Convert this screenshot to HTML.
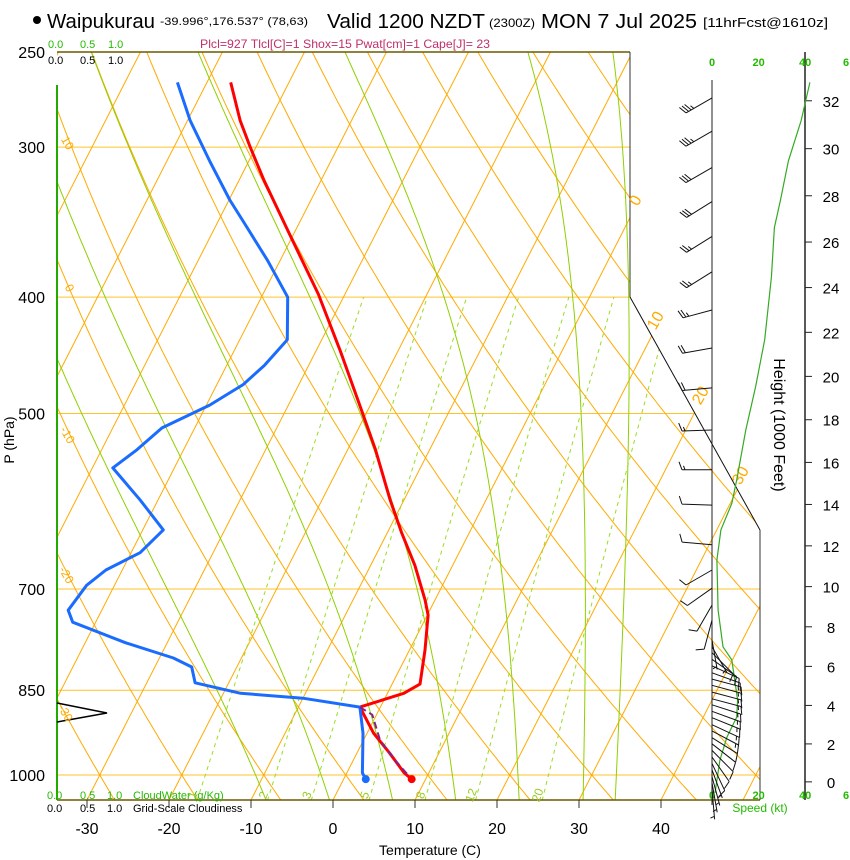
<!DOCTYPE html>
<html><head><meta charset="utf-8"><style>
html,body{margin:0;padding:0;background:#fff}
svg{display:block;font-family:"Liberation Sans",sans-serif}
</style></head><body>
<svg id="chart" width="850" height="860" viewBox="0 0 850 860" xmlns="http://www.w3.org/2000/svg">
<defs><clipPath id="plotclip"><polygon points="57,52 630,52 630,297 760,530 760,800 57,800"/></clipPath></defs>
<g id="bg" clip-path="url(#plotclip)"></g>
<g id="fg" clip-path="url(#plotclip)"></g>
<g id="ann"></g>
<g>
<circle cx="37" cy="20" r="4" fill="#000"/>
<text x="47" y="28" font-size="20" textLength="108" lengthAdjust="spacingAndGlyphs">Waipukurau</text>
<text x="160" y="25" font-size="11" textLength="148" lengthAdjust="spacingAndGlyphs">-39.996°,176.537° (78,63)</text>
<text x="327" y="28" font-size="20" textLength="158" lengthAdjust="spacingAndGlyphs">Valid 1200 NZDT</text>
<text x="489" y="27" font-size="12" textLength="46" lengthAdjust="spacingAndGlyphs">(2300Z)</text>
<text x="541" y="28" font-size="20" textLength="156" lengthAdjust="spacingAndGlyphs">MON 7 Jul 2025</text>
<text x="703" y="27" font-size="13" textLength="125" lengthAdjust="spacingAndGlyphs">[11hrFcst@1610z]</text>
</g>
<text x="345" y="48" font-size="12" fill="#c0306a" text-anchor="middle" textLength="290" lengthAdjust="spacingAndGlyphs">Plcl=927 Tlcl[C]=1 Shox=15 Pwat[cm]=1 Cape[J]= 23</text>
<g font-size="11">
<text x="48" y="48" fill="#22bb00">0.0</text><text x="80" y="48" fill="#22bb00">0.5</text><text x="108" y="48" fill="#22bb00">1.0</text>
<text x="48" y="64">0.0</text><text x="80" y="64">0.5</text><text x="108" y="64">1.0</text>
<text x="47" y="799" fill="#22bb00">0.0</text><text x="80" y="799" fill="#22bb00">0.5</text><text x="107" y="799" fill="#22bb00">1.0</text><text x="133" y="799" fill="#22bb00">CloudWater (g/Kg)</text>
<text x="47" y="812">0.0</text><text x="80" y="812">0.5</text><text x="107" y="812">1.0</text><text x="133" y="812">Grid-Scale Cloudiness</text>
</g>
<text x="430" y="855" font-size="14" text-anchor="middle">Temperature (C)</text>
<text transform="translate(14,440) rotate(-90)" font-size="14" text-anchor="middle">P (hPa)</text>
<text transform="translate(774,425) rotate(90)" font-size="16" text-anchor="middle">Height (1000 Feet)</text>
<text x="760" y="812" font-size="12" fill="#22bb00" text-anchor="middle">Speed (kt)</text>
</svg>
<script>
// ---- data ----
const pressureTicks=[250,300,400,500,700,850,1000];
const tempTicks=[-30,-20,-10,0,10,20,30,40];
const isothermValues=[-120,-110,-100,-90,-80,-70,-60,-50,-40,-30,-20,-10,0,10,20,30,40,50];
const dryAdiabatThetas=[-40,-30,-20,-10,0,10,20,30,40,50,60,70,80,90,100,110,120,130,140,150,160];
const moistT1000=[-11,-3,5,13,21,29,33];
const mixingRatios=[1,2,3,5,8,12,20];
const tempP=[265,285,300,320,355,398,443,492,536,590,629,669,715,736,787,840,855,878,923,959,996,1008];
const tempT=[-57.1,-53.6,-50.7,-46.9,-40.4,-33.2,-27.1,-21.3,-16.6,-11.7,-8.2,-4.6,-1.2,0.1,1.9,3.4,2.0,-2.5,0.8,4.0,7.0,8.3];
const dewP=[265,285,308,332,348,373,400,434,456,473,492,514,536,555,590,625,653,675,695,729,746,776,799,813,838,855,863,878,923,996,1008];
const dewT=[-63.6,-59.7,-54.8,-49.9,-46.5,-41.5,-36.8,-34.2,-35.4,-36.8,-39.6,-44.0,-45.7,-47.5,-42.2,-37.5,-38.9,-42.0,-43.4,-44.1,-42.8,-35.1,-28.3,-25.5,-24.1,-17.9,-10.0,-2.5,-0.5,1.9,2.7];
const parcelP=[878,891,935,972,1008];
const parcelT=[-2.5,-0.5,2.0,5.1,8.3];
const speedP=[1035,972,930,895,866,802,782,729,662,625,594,568,516,475,434,385,350,332,308,285,265];
const speedKt=[1.3,3.4,6.4,10.6,11,8.5,4.7,2.6,2.1,3.8,8.5,10.6,14.5,18.7,22.6,25.5,26.8,29.4,32.8,38.3,42];
const barbP=[273,291,312,333,356,381,410,441,476,516,557,596,643,675,699,722,743,772,782,791,801,811,822,832,842,853,864,874,885,896,908,919,931,942,954,966,978,990,1003,1015,1028];
const barbDir=[240,240,240,238,238,238,255,260,265,268,270,272,275,240,235,210,195,170,150,135,125,115,110,105,105,105,105,108,110,112,115,118,122,128,135,145,155,160,165,170,175];
const barbKt=[35,35,30,30,25,25,25,20,20,15,15,10,10,10,10,10,10,5,5,10,10,10,10,15,15,15,15,15,15,15,15,15,10,10,10,10,10,5,5,5,5];
const heightTicks=[0,2,4,6,8,10,12,14,16,18,20,22,24,26,28,30,32];
const speedTicks=[0,20,40,60];

// ---- axes ----
function yP(p){return 775-521.5*Math.log(1000/p);}
function xTP(T,p){return 333+8.2*T+0.51*(800-yP(p));}
function xSpd(s){return 712+2.33*s;}
function pFromFeet(ft){return 1013.25*Math.pow(1-6.5e-3*ft*0.3048/288.15,5.2559);}
const NS='http://www.w3.org/2000/svg';
function mk(tag,attrs,parent){const e=document.createElementNS(NS,tag);for(const k in attrs)e.setAttribute(k,attrs[k]);parent.appendChild(e);return e;}
const bg=document.getElementById('bg'),fg=document.getElementById('fg'),ann=document.getElementById('ann'),svg=document.getElementById('chart');
function pathFrom(pts){return pts.map((q,i)=>(i?'L':'M')+q[0].toFixed(1)+','+q[1].toFixed(1)).join('');}
const pLevels=[];for(let p=1050;p>=245;p-=5)pLevels.push(p);

// isobars
pressureTicks.forEach(p=>{if(p===250)return;
 const l=mk('line',{x1:57,x2:800,y1:yP(p),y2:yP(p),stroke:'#ffc22a','stroke-width':1},bg);
 });
// isotherms
isothermValues.forEach(T=>{
 const l=mk('line',{x1:xTP(T,1050),y1:yP(1050),x2:xTP(T,240),y2:yP(240),stroke:'#ffaa00','stroke-width':1},bg);
 });
// dry adiabats
dryAdiabatThetas.forEach(th=>{
 const pts=pLevels.map(p=>[xTP((th+273.15)*Math.pow(p/1000,0.286)-273.15,p),yP(p)]);
 const e=mk('path',{d:pathFrom(pts),fill:'none',stroke:'#ffaa00','stroke-width':1},bg);
 });
// moist adiabats
function es(Tc){return 6.112*Math.exp(17.67*Tc/(Tc+243.5));}
function dTdp(Tk,p){const e=es(Tk-273.15),rs=0.622*e/(p-e),Rd=287,cp=1004,L=2.5e6;
 return (Rd*Tk+L*rs)/(p*(cp+L*L*rs*0.622/(Rd*Tk*Tk)));}
moistT1000.forEach(T0=>{
 const pts=[];let T=T0+273.15;
 for(let p=1000;p<=1050;p+=2){pts.unshift([xTP(T-273.15,p),yP(p)]);T+=dTdp(T,p)*2;}
 T=T0+273.15;
 for(let p=1000;p>=245;p-=2){pts.push([xTP(T-273.15,p),yP(p)]);T-=dTdp(T,p)*2;}
 const e=mk('path',{d:pathFrom(pts),fill:'none',stroke:'#8fd000','stroke-width':1},bg);
 });
// mixing ratio lines
mixingRatios.forEach(w=>{
 const pts=[];for(let p=1050;p>=400;p-=10){const e=w*p/(622+w),a=Math.log(e/6.112);pts.push([xTP(243.5*a/(17.67-a),p),yP(p)]);}
 const e=mk('path',{d:pathFrom(pts),fill:'none',stroke:'#99dd22','stroke-width':1,'stroke-dasharray':'4,4'},bg);
 
 const eL=w*1040/(622+w),aL=Math.log(eL/6.112);
 const t=mk('text',{transform:`translate(${xTP(243.5*aL/(17.67-aL),1040)-2},${yP(1040)+1}) rotate(-70)`,'font-size':12,fill:'#99cc22','text-anchor':'middle'},svg);
 t.textContent=w;});
// profiles
function prof(P,T,color,w,name,dash){const pts=P.map((p,i)=>[xTP(T[i],p),yP(p)]);
 const e=mk('path',{d:pathFrom(pts),fill:'none',stroke:color,'stroke-width':w,'stroke-linejoin':'round'},fg);
 if(dash)e.setAttribute('stroke-dasharray',dash);
 return pts;}
const tp=prof(tempP,tempT,'#ff0000',3,'temperature-line');
const dp=prof(dewP,dewT,'#1a6cff',3,'dewpoint-line');
prof(parcelP,parcelT,'#882288',2,'parcel-line','7,4');
let c=mk('circle',{cx:tp[tp.length-1][0],cy:tp[tp.length-1][1],r:4,fill:'#ff0000'},svg);

c=mk('circle',{cx:dp[dp.length-1][0],cy:dp[dp.length-1][1],r:4,fill:'#1a6cff'},svg);


// frame
function ln(x1,y1,x2,y2,col,w,name){const l=mk('line',{x1,y1,x2,y2,stroke:col,'stroke-width':w},ann);}
ln(57,52,630,52,'#6b5a00',1.5,'plot-top-border');
ln(57,800,760,800,'#6b5a00',1.5,'plot-bottom-border');
ln(630,52,630,297,'#333',1,'plot-right-border');
ln(630,297,760,530,'#111',1,'plot-diagonal-border');
ln(760,530,760,800,'#333',1,'plot-right-border-lower');
ln(57,85,57,800,'#22aa00',2,'cloudwater-line');
ln(712,80,712,805,'#222',1,'barb-staff');
ln(805,52,805,800,'#222',1.5,'height-axis-line');
const tri=mk('polyline',{points:'57,703 107,713 57,722',fill:'none',stroke:'#000','stroke-width':1.5},ann);


// pressure labels
pressureTicks.forEach(p=>{const t=mk('text',{x:45,y:yP(p)+6,'font-size':16,'text-anchor':'end'},svg);t.textContent=p;
 });
// temp ticks
tempTicks.forEach(T=>{const x=333+8.2*T;ln(x,800,x,808,'#333',1,'temp-tick');
 const t=mk('text',{x:x,y:834,'font-size':16,'text-anchor':'middle'},svg);t.textContent=T;
 });
// isotherm labels
[[0,640,203],[10,660,323],[20,705,398],[30,745,478]].forEach(a=>{const t=mk('text',{transform:`translate(${a[1]},${a[2]}) rotate(-60)`,'font-size':16,fill:'#ffaa00','text-anchor':'middle'},svg);t.textContent=a[0];
 });
[[10,64,145],[0,66,290],[-10,64,437],[-20,63,577],[-30,62,715]].forEach(a=>{const t=mk('text',{transform:`translate(${a[1]},${a[2]}) rotate(60)`,'font-size':12,fill:'#ffaa00','text-anchor':'middle'},svg);t.textContent=a[0];
 });
// height axis
heightTicks.forEach(h=>{const y=yP(pFromFeet(h*1000));ln(805,y,812,y,'#222',1,'height-tick');
 const t=mk('text',{x:831,y:y+6,'font-size':15,'text-anchor':'middle'},svg);t.textContent=h;
 });
// speed ticks
speedTicks.forEach(s=>{[66,799].forEach(y=>{const t=mk('text',{x:Math.min(xSpd(s),846),y:y,'font-size':11,'font-weight':'bold',fill:'#22bb00','text-anchor':'middle'},svg);t.textContent=(s===60?'6':s);
 });});
// speed line
const sp=mk('path',{d:pathFrom(speedP.map((p,i)=>[xSpd(speedKt[i]),yP(p)])),fill:'none',stroke:'#33aa22','stroke-width':1.2},svg);

// barbs
barbP.forEach((p,i)=>{const y0=yP(p),d=barbDir[i]*Math.PI/180,vx=Math.sin(d),vy=-Math.cos(d),L=30;
 const ex=712+vx*L,ey=y0+vy*L;let dd=`M712,${y0.toFixed(1)}L${ex.toFixed(1)},${ey.toFixed(1)}`;
 const fx=-vy,fy=vx;let s=barbKt[i],k=0;
 while(s>=10){const bx=ex-vx*k*3,by=ey-vy*k*3;dd+=`M${bx.toFixed(1)},${by.toFixed(1)}l${(fx*8+vx*3).toFixed(1)},${(fy*8+vy*3).toFixed(1)}`;s-=10;k++;}
 if(s>=5){if(k===0)k=1;const bx=ex-vx*k*3,by=ey-vy*k*3;dd+=`M${bx.toFixed(1)},${by.toFixed(1)}l${(fx*4+vx*1.5).toFixed(1)},${(fy*4+vy*1.5).toFixed(1)}`;}
 const e=mk('path',{d:dd,fill:'none',stroke:'#111','stroke-width':1},svg);
 });
</script>
</body></html>
